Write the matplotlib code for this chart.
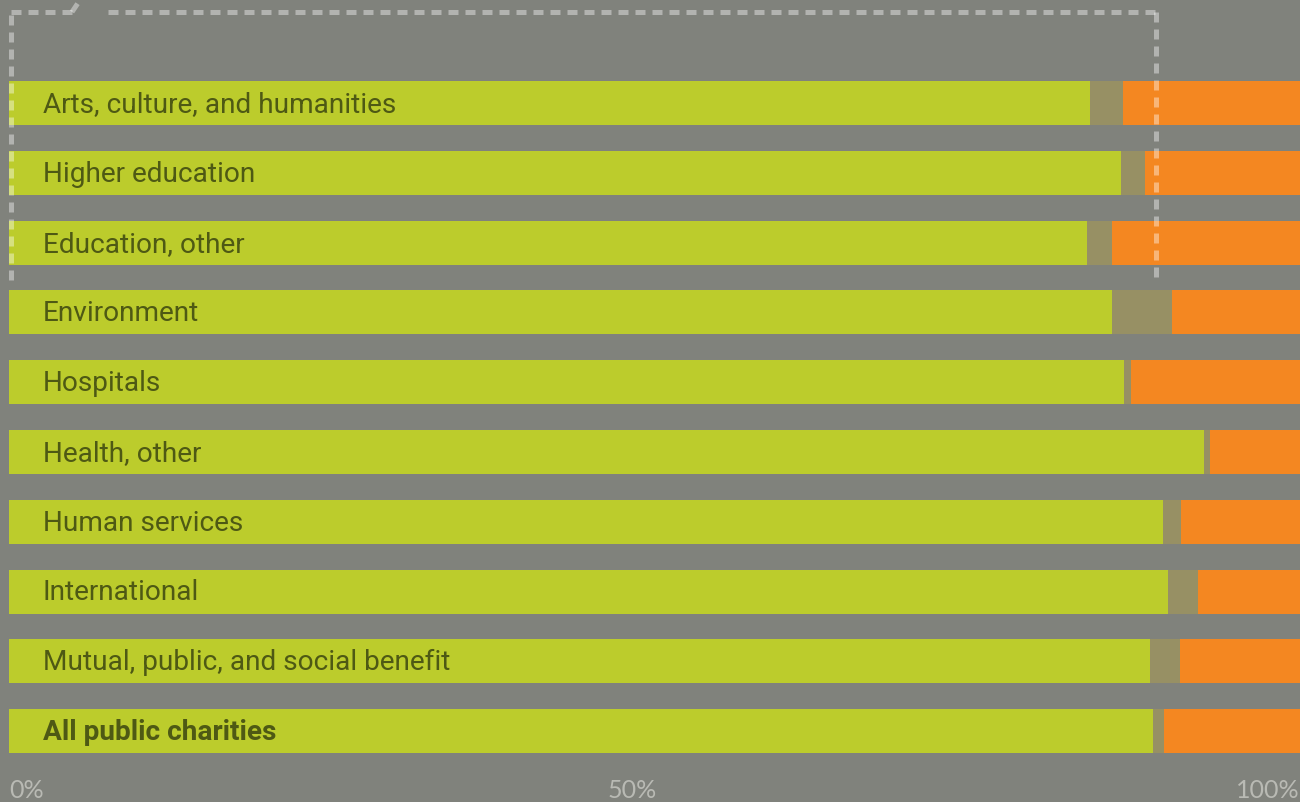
import numpy as np
import matplotlib
matplotlib.use('Agg')
import matplotlib.pyplot as plt
from matplotlib.lines import Line2D

categories = ['Arts, culture, and humanities', 'Higher education', 'Education, other',
              'Environment', 'Hospitals', 'Health, other', 'Human services',
              'International', 'Mutual, public, and social benefit', 'All public charities']
green_vals = [83.7, 86.1, 83.5, 85.4, 86.4, 92.6, 89.4, 89.8, 88.4, 88.6]
tan_vals = [2.6, 1.9, 1.9, 4.7, 0.5, 0.4, 1.4, 2.3, 2.3, 0.9]
orange_vals = [13.7, 12.0, 14.6, 9.9, 13.1, 7.0, 9.2, 7.9, 9.3, 10.5]
tick_vals = [0, 50, 100]
tick_labels = ['0%', '50%', '100%']

bg = '#80827c'
green = '#bccc2c'
tan = '#979064'
orange = '#f48721'
text_col = '#4e5914'
tick_col = '#b9bab4'

fig = plt.figure(figsize=(13, 8.02), dpi=100, facecolor=bg)
ax = fig.add_axes([9 / 1300, 0.0449, 1291 / 1300, 0.870])
ax.set_facecolor(bg)

y = np.arange(len(categories))
g = np.array(green_vals)
t = np.array(tan_vals)
o = np.array(orange_vals)
h = 0.63
ax.barh(y, g, height=h, color=green, linewidth=0)
ax.barh(y, t, left=g, height=h, color=tan, linewidth=0)
ax.barh(y, o, left=g + t, height=h, color=orange, linewidth=0)

for i, name in enumerate(categories):
    bold = name == 'All public charities'
    ax.text(2.6, i + 0.02, name, va='center', ha='left', color=text_col,
            fontsize=20.2, family='Roboto', fontweight='bold' if bold else 'normal')

ax.set_xlim(0, 100)
ax.set_ylim(len(categories) - 0.5, -0.5)
for side in ax.spines.values():
    side.set_visible(False)
ax.set_xticks([])
ax.set_yticks([])

# axis labels along the bottom
for v, lab in zip(tick_vals, tick_labels):
    ha = 'left' if v == 0 else ('right' if v == 100 else 'center')
    fig.text(9 / 1300 + v / 100 * 1291 / 1300 - (0.017 if v == 50 else 0), 1 - 790 / 802, lab,
             ha=ha, va='center', color=tick_col, fontsize=18, family='Lato')

# dashed callout box
dash = dict(color='white', alpha=0.4, linewidth=3.6, linestyle=(0, (2.0, 1.4)))
dash['transform'] = fig.transFigure


def fx(px):
    return px / 1300


def fy(py):
    return 1 - py / 802


fig.add_artist(Line2D([fx(11), fx(11)], [fy(280), fy(12)], **dash))
fig.add_artist(Line2D([fx(11), fx(72)], [fy(12), fy(12)], **dash))
fig.add_artist(Line2D([fx(72), fx(80)], [fy(12), fy(0)], **dash))
fig.add_artist(Line2D([fx(108), fx(1156)], [fy(12), fy(12)], **dash))
fig.add_artist(Line2D([fx(1156), fx(1156)], [fy(12), fy(280)], **dash))

fig.savefig('out.png', dpi=100, facecolor=bg)
